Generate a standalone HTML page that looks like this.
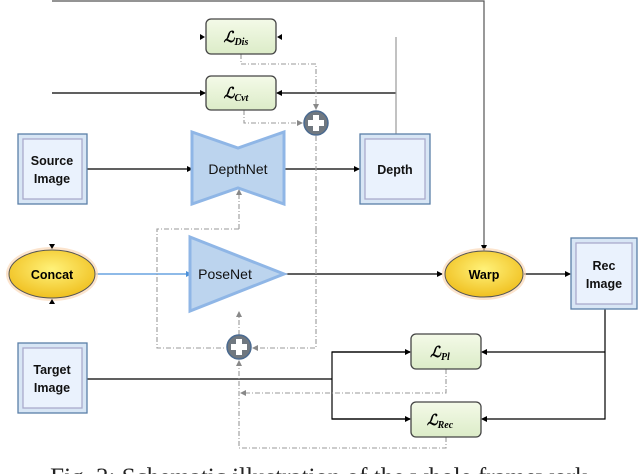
<!DOCTYPE html>
<html><head><meta charset="utf-8"><style>
html,body{margin:0;padding:0;background:#fff;overflow:hidden;width:640px;height:474px}
svg{position:absolute;left:0;top:0}
.s{font-family:"Liberation Sans","DejaVu Sans",sans-serif}
.r{font-family:"Liberation Serif","DejaVu Serif",serif}
</style></head><body>
<svg width="640" height="474" viewBox="0 0 640 474">
<defs>
<marker id="a" markerWidth="6" markerHeight="6" refX="5" refY="3" orient="auto" markerUnits="userSpaceOnUse"><path d="M0,0 L6,3 L0,6z" fill="#000"/></marker>
<marker id="g" markerWidth="6" markerHeight="6" refX="5" refY="3" orient="auto" markerUnits="userSpaceOnUse"><path d="M0,0 L6,3 L0,6z" fill="#888"/></marker>
<marker id="b" markerWidth="6" markerHeight="6" refX="5" refY="3" orient="auto" markerUnits="userSpaceOnUse"><path d="M0,0 L6,3 L0,6z" fill="#4a90d9"/></marker>
<linearGradient id="lg" x1="0" y1="0" x2="0" y2="1"><stop offset="0" stop-color="#f4fae8"/><stop offset="1" stop-color="#dcecc8"/></linearGradient>
<radialGradient id="yl" cx="0.5" cy="0.4" r="0.6"><stop offset="0" stop-color="#fff27a"/><stop offset="1" stop-color="#f0c020"/></radialGradient>
</defs>
<g stroke="#000" stroke-width="1.2" fill="none">
<polyline points="52,1 484,1 484,250" marker-end="url(#a)" stroke="#555"/>
<line x1="52" y1="93" x2="205" y2="93" marker-end="url(#a)"/>
<line x1="396" y1="93" x2="277" y2="93" marker-end="url(#a)"/>
<line x1="87" y1="169" x2="192" y2="169" marker-end="url(#a)"/>
<line x1="284" y1="169" x2="359" y2="169" marker-end="url(#a)"/>
<line x1="284" y1="274" x2="442" y2="274" marker-end="url(#a)"/>
<line x1="524" y1="274" x2="570" y2="274" marker-end="url(#a)"/>
<line x1="87" y1="379" x2="332" y2="379"/>
<polyline points="410,352 332,352 332,419 410,419" />
<line x1="332" y1="352" x2="410" y2="352" marker-end="url(#a)"/>
<line x1="332" y1="419" x2="410" y2="419" marker-end="url(#a)"/>
<polyline points="605,309 605,419 482,419" marker-end="url(#a)"/>
<line x1="605" y1="352" x2="482" y2="352" marker-end="url(#a)"/>
</g>
<line x1="396" y1="37" x2="396" y2="134" stroke="#999" stroke-width="1.2"/>
<line x1="96" y1="274" x2="191" y2="274" stroke="#4a90d9" stroke-width="1.2" marker-end="url(#b)"/>
<g stroke="#999" stroke-width="1.1" fill="none" stroke-dasharray="5,2,1,2">
<polyline points="241,54 241,64 316,64 316,109" marker-end="url(#g)"/>
<polyline points="244,110 244,123 302,123" marker-end="url(#g)"/>
<line x1="316" y1="136" x2="316" y2="229"/>
<polyline points="239,229 157,229 157,348 226,348"/>
<line x1="239" y1="229" x2="239" y2="190" marker-end="url(#g)"/>
<polyline points="316,229 316,348 253,348" marker-end="url(#g)"/>
<line x1="239" y1="335" x2="239" y2="312" marker-end="url(#g)"/>
<polyline points="446,369 446,393 241,393" marker-end="url(#g)"/>
<polyline points="446,437 446,448 239,448 239,361" marker-end="url(#g)"/>
</g>
<g stroke="#444" stroke-width="1.3" fill="url(#lg)">
<rect x="206" y="19" width="70" height="35" rx="5"/>
<rect x="206" y="76" width="70" height="34" rx="5"/>
<rect x="411" y="334" width="70" height="35" rx="5"/>
<rect x="411" y="402" width="70" height="35" rx="5"/>
</g>
<path d="M200,34 L205,37 L200,40z M282,34 L277,37 L282,40z" fill="#000"/>
<g class="r" style="font-style:italic;font-weight:bold;font-size:15px" text-anchor="middle">
<text x="236" y="42">ℒ<tspan style="font-size:10px" dy="3">Dis</tspan></text>
<text x="236" y="98">ℒ<tspan style="font-size:10px" dy="3">Cvt</tspan></text>
<text x="440" y="357">ℒ<tspan style="font-size:10px" dy="3">Pl</tspan></text>
<text x="440" y="425">ℒ<tspan style="font-size:10px" dy="3">Rec</tspan></text>
</g>
<g stroke="#5a7fa8" stroke-width="1.3">
<rect x="18" y="134" width="69" height="70" fill="#d8e6f5"/>
<rect x="23" y="139" width="59" height="60" fill="#eaf2fd" stroke="#aac"/>
<rect x="360" y="134" width="70" height="70" fill="#d8e6f5"/>
<rect x="365" y="139" width="60" height="60" fill="#eaf2fd" stroke="#aac"/>
<rect x="18" y="343" width="69" height="70" fill="#d8e6f5"/>
<rect x="23" y="348" width="59" height="60" fill="#eaf2fd" stroke="#aac"/>
<rect x="571" y="238" width="66" height="71" fill="#d8e6f5"/>
<rect x="576" y="243" width="56" height="61" fill="#eaf2fd" stroke="#aac"/>
</g>
<g class="s" font-size="12.5" font-weight="bold" text-anchor="middle" fill="#111">
<text x="52" y="165">Source</text><text x="52" y="183">Image</text>
<text x="395" y="174">Depth</text>
<text x="52" y="374">Target</text><text x="52" y="392">Image</text>
<text x="604" y="270">Rec</text><text x="604" y="288">Image</text>
</g>
<polygon points="192,132 238,148 284,132 284,204 238,188 192,204" fill="#bcd4ee" stroke="#8fb6e6" stroke-width="3"/>
<text class="s" x="238" y="174" font-size="14" text-anchor="middle" fill="#111">DepthNet</text>
<polygon points="190,237 284,274 190,311" fill="#bcd4ee" stroke="#8fb6e6" stroke-width="3"/>
<text class="s" x="225" y="279" font-size="14" text-anchor="middle" fill="#111">PoseNet</text>
<ellipse cx="52" cy="274" rx="46" ry="27" fill="#fbd9b8" opacity="0.7"/>
<ellipse cx="52" cy="274" rx="43" ry="24" fill="url(#yl)" stroke="#555" stroke-width="1"/>
<text class="s" x="52" y="279" font-size="12.5" font-weight="bold" text-anchor="middle">Concat</text>
<path d="M49,244 L55,244 L52,249z M49,304 L55,304 L52,299z" fill="#000"/>
<ellipse cx="484" cy="274" rx="42" ry="26" fill="#fbd9b8" opacity="0.7"/>
<ellipse cx="484" cy="274" rx="39" ry="23" fill="url(#yl)" stroke="#555" stroke-width="1"/>
<text class="s" x="484" y="279" font-size="12.5" font-weight="bold" text-anchor="middle">Warp</text>
<circle cx="316" cy="123" r="12" fill="#707880" stroke="#4a6a90" stroke-width="1.5"/>
<path d="M313,115 h6 v5 h5 v6 h-5 v5 h-6 v-5 h-5 v-6 h5z" fill="#fff"/>
<circle cx="239" cy="347" r="12" fill="#707880" stroke="#4a6a90" stroke-width="1.5"/>
<path d="M236,339 h6 v5 h5 v6 h-5 v5 h-6 v-5 h-5 v-6 h5z" fill="#fff"/>
<text class="r" x="322" y="485" style="font-size:25px" text-anchor="middle" fill="#222">Fig. 3: Schematic illustration of the whole framework.</text>
</svg>
</body></html>
